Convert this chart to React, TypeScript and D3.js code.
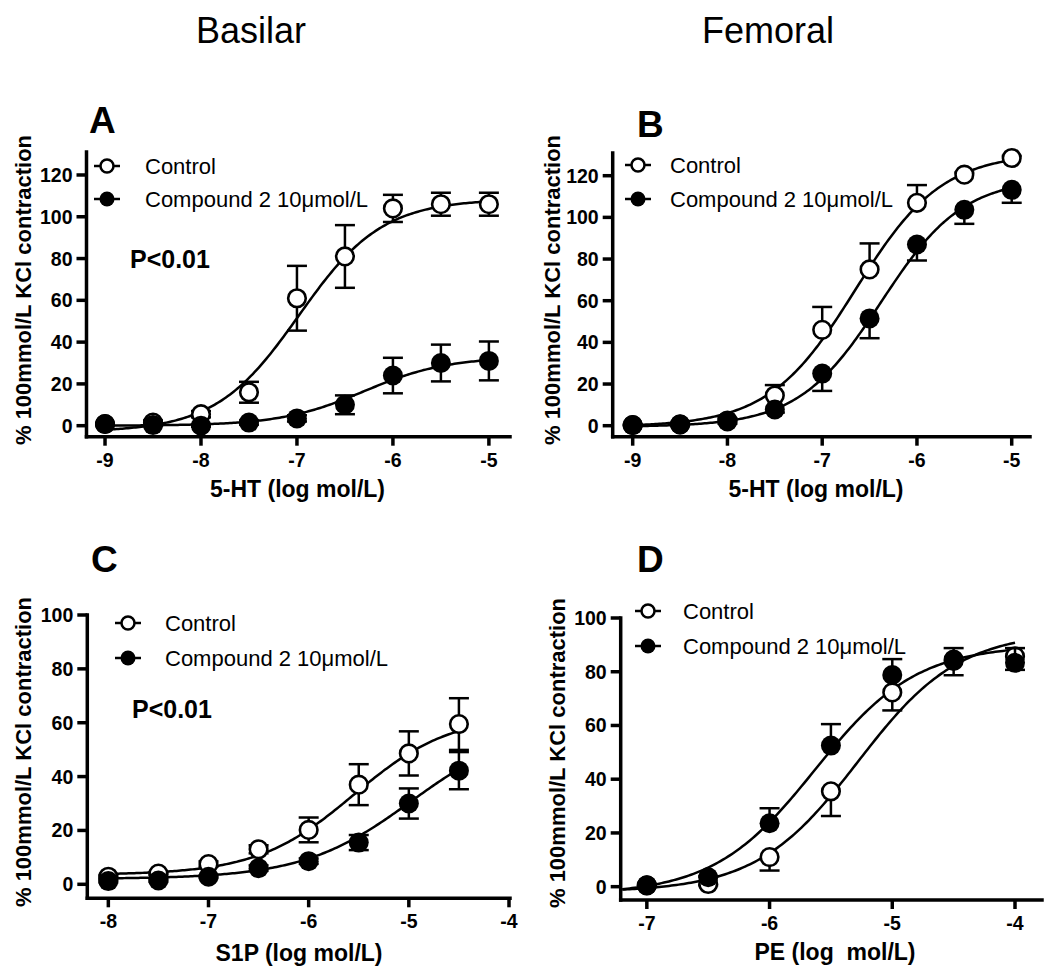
import React from 'react';
import * as d3 from 'd3';

const FONT = '"Liberation Sans", Arial, Helvetica, sans-serif';

// ---------- DATA ----------
const dosesAB = [-9, -8.5, -8, -7.5, -7, -6.5, -6, -5.5, -5];
const dosesC = [-8, -7.5, -7, -6.5, -6, -5.5, -5, -4.5];
const dosesD = [-7, -6.5, -6, -5.5, -5, -4.5, -4];

const controlA = [0.8, 1.5, 5.5, 16, 61, 81, 104, 106, 106];
const controlAErr = [0.5, 1, 1.5, 5, 15.5, 15, 6.5, 5.5, 5.5];
const compoundA = [0.8, 0.3, 0, 1.5, 3.5, 10, 24, 30, 31];
const compoundAErr = [0.5, 0.5, 0.5, 1, 1.5, 4.5, 8.5, 8.8, 9.3];

const controlB = [0.3, 0.6, 2.5, 14.5, 46, 75, 107, 120.5, 128.5];
const controlBErr = [0.5, 0.5, 1, 5, 11, 12.5, 8.5, 1, 1];
const compoundB = [0.3, 0.6, 2, 7.8, 25, 51.5, 87, 103.6, 113.2];
const compoundBErr = [0.5, 0.5, 1, 1.5, 8.3, 9.5, 7.7, 6.7, 6.2];

const controlC = [2.8, 4, 7.5, 13, 20.2, 37, 48.6, 59.5];
const controlCErr = [0.5, 0.5, 1, 1.5, 4.6, 7.6, 8.2, 9.6];
const compoundC = [1.2, 1.4, 2.8, 6, 8.6, 15.5, 30, 42.2];
const compoundCErr = [0.5, 0.5, 0.5, 1, 1, 2.8, 5.6, 6.9];

const controlD = [0.5, 1, 11, 35.5, 72.3, 84.5, 85.7];
const controlDErr = [0.5, 0.5, 5, 9.2, 6.7, 5.8, 5];
const compoundD = [0.5, 3.5, 23.6, 52.5, 78.8, 84, 83.3];
const compoundDErr = [0.5, 0.5, 5.6, 8, 5.9, 4.8, 5.5];

// fitted sigmoid parameters: [bottom, top, logEC50, hill]
const fitControlA = [-3, 108.5, -6.98, 1.0];
const fitCompoundA = [0, 33, -6.3, 1.0];
const fitControlB = [-0.5, 131, -6.65, 0.95];
const fitCompoundB = [-0.5, 119, -6.38, 1.0];
const fitControlC = [3.5, 63, -5.55, 0.9];
const fitCompoundC = [2, 60, -4.97, 0.8];
const fitControlD = [-2, 95, -5.28, 1.05];
const fitCompoundD = [-3, 90, -5.63, 1.05];

const ticksAB_x = [-9, -8, -7, -6, -5];
const ticksC_x = [-8, -7, -6, -5, -4];
const ticksD_x = [-7, -6, -5, -4];
const ticksAB_y = [0, 20, 40, 60, 80, 100, 120];
const ticksCD_y = [0, 20, 40, 60, 80, 100];

const legendLabels = ['Control', 'Compound 2 10\u03bcmol/L'];
const columnTitles = ['Basilar', 'Femoral'];
const yAxisTitle = '% 100mmol/L KCl contraction';

// ---------- LAYOUT ----------
type Panel = {
  letter: string; letterX: number; letterY: number;
  left: number; right: number; top: number; bottom: number;
  xDomain: [number, number]; yDomain: [number, number];
  xTicks: number[]; yTicks: number[];
  xLabel: string; xLabelX: number; xLabelY: number;
  yLabelX: number; yLabelY: number;
  doses: number[];
  control: number[]; controlErr: number[]; controlDir: 'both' | 'up' | 'down';
  compound: number[]; compoundErr: number[]; compoundDir: 'both' | 'up' | 'down';
  fitControl: number[]; fitCompound: number[]; curveRange: [number, number];
  legX: number; legY1: number; legY2: number; legTextX: number;
  pText?: [number, number];
};

const panels: Panel[] = [
  {
    letter: 'A', letterX: 89, letterY: 133,
    left: 86.5, right: 510, top: 152, bottom: 436.7,
    xDomain: [-9.193, -4.78], yDomain: [-5.27, 131],
    xTicks: ticksAB_x, yTicks: ticksAB_y,
    xLabel: '5-HT (log mol/L)', xLabelX: 297.5, xLabelY: 497,
    yLabelX: 23, yLabelY: 290,
    doses: dosesAB,
    control: controlA, controlErr: controlAErr, controlDir: 'both',
    compound: compoundA, compoundErr: compoundAErr, compoundDir: 'both',
    fitControl: fitControlA, fitCompound: fitCompoundA, curveRange: [-9, -5],
    legX: 107, legY1: 166, legY2: 199, legTextX: 145,
    pText: [130, 268],
  },
  {
    letter: 'B', letterX: 637, letterY: 137,
    left: 612.7, right: 1030, top: 153, bottom: 436.7,
    xDomain: [-9.211, -4.807], yDomain: [-5.28, 130.9],
    xTicks: ticksAB_x, yTicks: ticksAB_y,
    xLabel: '5-HT (log mol/L)', xLabelX: 816, xLabelY: 497,
    yLabelX: 552, yLabelY: 290,
    doses: dosesAB,
    control: controlB, controlErr: controlBErr, controlDir: 'up',
    compound: compoundB, compoundErr: compoundBErr, compoundDir: 'down',
    fitControl: fitControlB, fitCompound: fitCompoundB, curveRange: [-9, -5],
    legX: 638, legY1: 165, legY2: 199, legTextX: 670,
  },
  {
    letter: 'C', letterX: 91, letterY: 572,
    left: 87.3, right: 510, top: 615, bottom: 898.3,
    xDomain: [-8.21, -3.99], yDomain: [-5.2, 100],
    xTicks: ticksC_x, yTicks: ticksCD_y,
    xLabel: 'S1P (log mol/L)', xLabelX: 299, xLabelY: 961,
    yLabelX: 23, yLabelY: 752,
    doses: dosesC,
    control: controlC, controlErr: controlCErr, controlDir: 'both',
    compound: compoundC, compoundErr: compoundCErr, compoundDir: 'both',
    fitControl: fitControlC, fitCompound: fitCompoundC, curveRange: [-8, -4.5],
    legX: 128, legY1: 623, legY2: 658, legTextX: 165,
    pText: [132, 718],
  },
  {
    letter: 'D', letterX: 637, letterY: 572,
    left: 620.7, right: 1042, top: 618, bottom: 900,
    xDomain: [-7.213, -3.78], yDomain: [-4.96, 100],
    xTicks: ticksD_x, yTicks: ticksCD_y,
    xLabel: 'PE (log  mol/L)', xLabelX: 835, xLabelY: 960,
    yLabelX: 557, yLabelY: 753,
    doses: dosesD,
    control: controlD, controlErr: controlDErr, controlDir: 'down',
    compound: compoundD, compoundErr: compoundDErr, compoundDir: 'up',
    fitControl: fitControlD, fitCompound: fitCompoundD, curveRange: [-7.2, -4],
    legX: 648, legY1: 611, legY2: 646, legTextX: 683,
  },
];

function logistic(p: number[], x: number) {
  const [bottom, top, ec50, hill] = p;
  return bottom + (top - bottom) / (1 + Math.pow(10, hill * (ec50 - x)));
}

const R = 10;
const CAP = 10;

function ErrorBars({ doses, vals, errs, dir, x, y }: any) {
  return (
    <g stroke="#000" strokeWidth={2.5} fill="none">
      {doses.map((d: number, i: number) => {
        const v = vals[i];
        const e = errs[i];
        const hi = dir === 'down' ? v : v + e;
        const lo = dir === 'up' ? v : v - e;
        const cx = x(d);
        return (
          <g key={i}>
            <line x1={cx} x2={cx} y1={y(hi)} y2={y(lo)} />
            {dir !== 'down' && <line x1={cx - CAP} x2={cx + CAP} y1={y(hi)} y2={y(hi)} />}
            {dir !== 'up' && <line x1={cx - CAP} x2={cx + CAP} y1={y(lo)} y2={y(lo)} />}
          </g>
        );
      })}
    </g>
  );
}

function PanelView({ p }: { p: Panel }) {
  const x = d3.scaleLinear().domain(p.xDomain).range([p.left, p.right]);
  const y = d3.scaleLinear().domain(p.yDomain).range([p.bottom, p.top]);
  const xs = d3.range(p.curveRange[0], p.curveRange[1] + 0.0001, 0.02);
  const line = d3.line<number>().x((d) => x(d)).curve(d3.curveLinear);
  const ctrlPath = line.y((d) => y(logistic(p.fitControl, d)))(xs) as string;
  const compPath = line.y((d) => y(logistic(p.fitCompound, d)))(xs) as string;

  return (
    <g>
      <text x={p.letterX} y={p.letterY} fontSize={37} fontWeight="bold" fontFamily={FONT}>{p.letter}</text>

      {/* axes */}
      <g stroke="#000" strokeWidth={3.5} strokeLinecap="square">
        <line x1={p.left} x2={p.left} y1={p.top} y2={p.bottom} />
        <line x1={p.left} x2={p.right} y1={p.bottom} y2={p.bottom} />
        {p.yTicks.map((t) => (
          <line key={'yt' + t} x1={p.left - 10} x2={p.left} y1={y(t)} y2={y(t)} strokeLinecap="butt" />
        ))}
        {p.xTicks.map((t) => (
          <line key={'xt' + t} x1={x(t)} x2={x(t)} y1={p.bottom} y2={p.bottom + 9} strokeLinecap="butt" />
        ))}
      </g>
      <g fontFamily={FONT} fontWeight="bold" fontSize={19.5}>
        {p.yTicks.map((t) => (
          <text key={'yl' + t} x={p.left - 14} y={y(t)} dy="0.36em" textAnchor="end">{t}</text>
        ))}
        {p.xTicks.map((t) => (
          <text key={'xl' + t} x={x(t)} y={p.bottom + 30} textAnchor="middle">{t}</text>
        ))}
      </g>
      <text x={p.xLabelX} y={p.xLabelY} textAnchor="middle" fontFamily={FONT} fontWeight="bold" fontSize={23}
        style={{ whiteSpace: 'pre' }}>{p.xLabel}</text>
      <text transform={`translate(${p.yLabelX},${p.yLabelY}) rotate(-90)`} textAnchor="middle" dy="0.36em"
        fontFamily={FONT} fontWeight="bold" fontSize={22}>{yAxisTitle}</text>

      {/* curves */}
      <path d={ctrlPath} fill="none" stroke="#000" strokeWidth={2.5} />
      <path d={compPath} fill="none" stroke="#000" strokeWidth={2.5} />

      {/* control */}
      <ErrorBars doses={p.doses} vals={p.control} errs={p.controlErr} dir={p.controlDir} x={x} y={y} />
      {p.doses.map((d, i) => (
        <circle key={'c' + i} cx={x(d)} cy={y(p.control[i])} r={R - 1.2} fill="#fff" stroke="#000" strokeWidth={2.6} />
      ))}
      {/* compound */}
      <ErrorBars doses={p.doses} vals={p.compound} errs={p.compoundErr} dir={p.compoundDir} x={x} y={y} />
      {p.doses.map((d, i) => (
        <circle key={'k' + i} cx={x(d)} cy={y(p.compound[i])} r={R} fill="#000" />
      ))}

      {/* legend */}
      <g stroke="#000" strokeWidth={2.5}>
        <line x1={p.legX - 13} x2={p.legX + 13} y1={p.legY1} y2={p.legY1} />
        <circle cx={p.legX} cy={p.legY1} r={6.5} fill="#fff" strokeWidth={2.5} />
        <line x1={p.legX - 13} x2={p.legX + 13} y1={p.legY2} y2={p.legY2} />
        <circle cx={p.legX} cy={p.legY2} r={7.5} fill="#000" stroke="none" />
      </g>
      <g fontFamily={FONT} fontSize={22}>
        <text x={p.legTextX} y={p.legY1} dy="0.36em">{legendLabels[0]}</text>
        <text x={p.legTextX} y={p.legY2} dy="0.36em">{legendLabels[1]}</text>
      </g>
      {p.pText && (
        <text x={p.pText[0]} y={p.pText[1]} fontFamily={FONT} fontWeight="bold" fontSize={25}>P&lt;0.01</text>
      )}
    </g>
  );
}

export default function App() {
  return (
    <svg width={1050} height={976} viewBox="0 0 1050 976"
      style={{ position: 'absolute', left: 0, top: 0, background: '#fff' }}>
      <rect width={1050} height={976} fill="#fff" />
      <text x={251} y={43} textAnchor="middle" fontFamily={FONT} fontSize={36}>{columnTitles[0]}</text>
      <text x={768} y={43} textAnchor="middle" fontFamily={FONT} fontSize={36}>{columnTitles[1]}</text>
      {panels.map((p) => <PanelView key={p.letter} p={p} />)}
    </svg>
  );
}
